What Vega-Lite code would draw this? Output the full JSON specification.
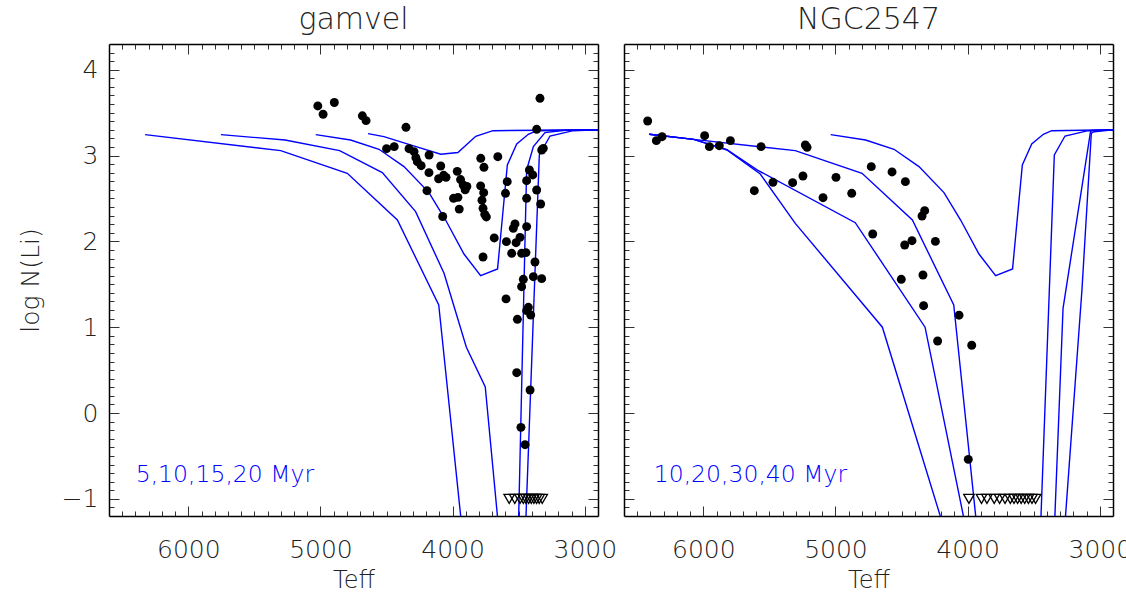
{
  "$schema": "https://vega.github.io/schema/vega-lite/v6.json",
  "autosize": {"type": "pad"},
  "padding": {"left": 18, "top": 5, "right": 0, "bottom": 0},
  "background": "white",
  "spacing": 6,
  "config": {
    "font": "DejaVu Sans",
    "view": {"stroke": null},
    "axis": {"grid": false, "domainColor": "#000", "domainWidth": 1.5, "tickColor": "#333", "tickWidth": 1, "labelColor": "#222", "titleColor": "#222", "labelFont": "DejaVu Sans", "labelFontWeight": 200, "titleFont": "DejaVu Sans", "titleFontWeight": 200, "labelOverlap": false, "labelFlush": false},
    "title": {"font": "DejaVu Sans", "fontWeight": 200, "fontSize": 30, "color": "#222", "offset": 8.5, "anchor": "middle"}
  },
  "datasets": {
    "gv_models": [
      {"age": "5", "teff": 4640, "logn": 3.255}, {"age": "5", "teff": 4520, "logn": 3.22}, {"age": "5", "teff": 4350, "logn": 3.14}, {"age": "5", "teff": 4090, "logn": 3.016}, {"age": "5", "teff": 3960, "logn": 3.036}, {"age": "5", "teff": 3825, "logn": 3.225}, {"age": "5", "teff": 3695, "logn": 3.29}, {"age": "5", "teff": 2900, "logn": 3.3},
      {"age": "10", "teff": 5036, "logn": 3.244}, {"age": "10", "teff": 4772, "logn": 3.181}, {"age": "10", "teff": 4557, "logn": 3.073}, {"age": "10", "teff": 4368, "logn": 2.871}, {"age": "10", "teff": 4179, "logn": 2.568}, {"age": "10", "teff": 4053, "logn": 2.249}, {"age": "10", "teff": 3914, "logn": 1.853}, {"age": "10", "teff": 3788, "logn": 1.601}, {"age": "10", "teff": 3660, "logn": 1.679}, {"age": "10", "teff": 3586, "logn": 2.89}, {"age": "10", "teff": 3515, "logn": 3.135}, {"age": "10", "teff": 3427, "logn": 3.248}, {"age": "10", "teff": 3364, "logn": 3.29}, {"age": "10", "teff": 2900, "logn": 3.3},
      {"age": "15", "teff": 5753, "logn": 3.244}, {"age": "15", "teff": 5268, "logn": 3.181}, {"age": "15", "teff": 4855, "logn": 3.057}, {"age": "15", "teff": 4532, "logn": 2.801}, {"age": "15", "teff": 4280, "logn": 2.347}, {"age": "15", "teff": 4065, "logn": 1.628}, {"age": "15", "teff": 3896, "logn": 0.766}, {"age": "15", "teff": 3753, "logn": 0.305}, {"age": "15", "teff": 3612, "logn": -2.0}, {"age": "15", "teff": 3512, "logn": -2.0}, {"age": "15", "teff": 3440, "logn": 2.832}, {"age": "15", "teff": 3389, "logn": 3.104}, {"age": "15", "teff": 3301, "logn": 3.267}, {"age": "15", "teff": 3150, "logn": 3.295}, {"age": "15", "teff": 2900, "logn": 3.3},
      {"age": "20", "teff": 6327, "logn": 3.244}, {"age": "20", "teff": 5301, "logn": 3.057}, {"age": "20", "teff": 4797, "logn": 2.793}, {"age": "20", "teff": 4418, "logn": 2.249}, {"age": "20", "teff": 4105, "logn": 1.259}, {"age": "20", "teff": 3885, "logn": -2.0}, {"age": "20", "teff": 3464, "logn": -2.0}, {"age": "20", "teff": 3344, "logn": 3.007}, {"age": "20", "teff": 3263, "logn": 3.228}, {"age": "20", "teff": 3087, "logn": 3.29}, {"age": "20", "teff": 2900, "logn": 3.3}
    ],
    "ngc_models": [
      {"age": "10", "teff": 5036, "logn": 3.244}, {"age": "10", "teff": 4772, "logn": 3.181}, {"age": "10", "teff": 4557, "logn": 3.073}, {"age": "10", "teff": 4368, "logn": 2.871}, {"age": "10", "teff": 4179, "logn": 2.568}, {"age": "10", "teff": 4053, "logn": 2.249}, {"age": "10", "teff": 3914, "logn": 1.853}, {"age": "10", "teff": 3788, "logn": 1.601}, {"age": "10", "teff": 3660, "logn": 1.679}, {"age": "10", "teff": 3586, "logn": 2.89}, {"age": "10", "teff": 3515, "logn": 3.135}, {"age": "10", "teff": 3427, "logn": 3.248}, {"age": "10", "teff": 3364, "logn": 3.29}, {"age": "10", "teff": 2900, "logn": 3.3},
      {"age": "20", "teff": 6409, "logn": 3.248}, {"age": "20", "teff": 6073, "logn": 3.189}, {"age": "20", "teff": 5304, "logn": 3.057}, {"age": "20", "teff": 4799, "logn": 2.793}, {"age": "20", "teff": 4418, "logn": 2.249}, {"age": "20", "teff": 4105, "logn": 1.259}, {"age": "20", "teff": 3885, "logn": -2.0}, {"age": "20", "teff": 3464, "logn": -2.0}, {"age": "20", "teff": 3344, "logn": 3.007}, {"age": "20", "teff": 3263, "logn": 3.228}, {"age": "20", "teff": 3087, "logn": 3.29}, {"age": "20", "teff": 2900, "logn": 3.3},
      {"age": "30", "teff": 6409, "logn": 3.248}, {"age": "30", "teff": 6073, "logn": 3.189}, {"age": "30", "teff": 5821, "logn": 3.07}, {"age": "30", "teff": 5590, "logn": 2.83}, {"age": "30", "teff": 4850, "logn": 2.218}, {"age": "30", "teff": 4322, "logn": 1.0}, {"age": "30", "teff": 4032, "logn": -1.2}, {"age": "30", "teff": 3927, "logn": -2.0}, {"age": "30", "teff": 3360, "logn": -2.0}, {"age": "30", "teff": 3278, "logn": 1.22}, {"age": "30", "teff": 3069, "logn": 3.29}, {"age": "30", "teff": 2900, "logn": 3.3},
      {"age": "40", "teff": 6409, "logn": 3.248}, {"age": "40", "teff": 6073, "logn": 3.189}, {"age": "40", "teff": 5821, "logn": 3.065}, {"age": "40", "teff": 5569, "logn": 2.785}, {"age": "40", "teff": 5304, "logn": 2.21}, {"age": "40", "teff": 4645, "logn": 1.0}, {"age": "40", "teff": 4207, "logn": -1.2}, {"age": "40", "teff": 4048, "logn": -2.0}, {"age": "40", "teff": 3297, "logn": -2.0}, {"age": "40", "teff": 3135, "logn": 1.434}, {"age": "40", "teff": 3064, "logn": 3.26}, {"age": "40", "teff": 3042, "logn": 3.278}, {"age": "40", "teff": 2900, "logn": 3.3}
    ],
    "gv_stars": [
      {"teff": 5020, "logn": 3.578}, {"teff": 4980, "logn": 3.481}, {"teff": 4895, "logn": 3.618}, {"teff": 4683, "logn": 3.463}, {"teff": 4655, "logn": 3.407}, {"teff": 4353, "logn": 3.329},
      {"teff": 4500, "logn": 3.08}, {"teff": 4442, "logn": 3.104}, {"teff": 4330, "logn": 3.08}, {"teff": 4292, "logn": 3.046}, {"teff": 4278, "logn": 2.975}, {"teff": 4267, "logn": 2.929}, {"teff": 4238, "logn": 2.882}, {"teff": 4178, "logn": 3.007}, {"teff": 4179, "logn": 2.801}, {"teff": 4194, "logn": 2.591},
      {"teff": 4090, "logn": 2.878}, {"teff": 4106, "logn": 2.73}, {"teff": 4068, "logn": 2.77}, {"teff": 4050, "logn": 2.746}, {"teff": 4075, "logn": 2.29}, {"teff": 3965, "logn": 2.816}, {"teff": 3940, "logn": 2.72}, {"teff": 3920, "logn": 2.657}, {"teff": 3892, "logn": 2.64}, {"teff": 3905, "logn": 2.6}, {"teff": 3993, "logn": 2.502}, {"teff": 3960, "logn": 2.513}, {"teff": 3950, "logn": 2.376},
      {"teff": 3787, "logn": 2.968}, {"teff": 3763, "logn": 2.863}, {"teff": 3788, "logn": 2.647}, {"teff": 3765, "logn": 2.568}, {"teff": 3778, "logn": 2.48}, {"teff": 3770, "logn": 2.385}, {"teff": 3757, "logn": 2.315}, {"teff": 3745, "logn": 2.285}, {"teff": 3658, "logn": 2.987}, {"teff": 3685, "logn": 2.04}, {"teff": 3770, "logn": 1.818}, {"teff": 3587, "logn": 2.696}, {"teff": 3600, "logn": 2.56}, {"teff": 3593, "logn": 1.997},
      {"teff": 3339, "logn": 3.667}, {"teff": 3364, "logn": 3.306}, {"teff": 3326, "logn": 3.065}, {"teff": 3314, "logn": 3.084}, {"teff": 3419, "logn": 2.832}, {"teff": 3394, "logn": 2.774}, {"teff": 3440, "logn": 2.707}, {"teff": 3364, "logn": 2.599}, {"teff": 3440, "logn": 2.502}, {"teff": 3334, "logn": 2.436},
      {"teff": 3528, "logn": 2.203}, {"teff": 3541, "logn": 2.152}, {"teff": 3440, "logn": 2.172}, {"teff": 3490, "logn": 2.047}, {"teff": 3520, "logn": 1.985}, {"teff": 3553, "logn": 1.861}, {"teff": 3478, "logn": 1.861}, {"teff": 3445, "logn": 1.869}, {"teff": 3377, "logn": 1.76},
      {"teff": 3465, "logn": 1.558}, {"teff": 3389, "logn": 1.589}, {"teff": 3326, "logn": 1.566}, {"teff": 3478, "logn": 1.472}, {"teff": 3596, "logn": 1.33}, {"teff": 3427, "logn": 1.232}, {"teff": 3440, "logn": 1.193}, {"teff": 3409, "logn": 1.142}, {"teff": 3510, "logn": 1.092},
      {"teff": 3515, "logn": 0.47}, {"teff": 3414, "logn": 0.268}, {"teff": 3483, "logn": -0.167}, {"teff": 3452, "logn": -0.369}
    ],
    "ngc_stars": [
      {"teff": 6421, "logn": 3.403}, {"teff": 6355, "logn": 3.174}, {"teff": 6312, "logn": 3.22}, {"teff": 5990, "logn": 3.232}, {"teff": 5954, "logn": 3.104}, {"teff": 5879, "logn": 3.115}, {"teff": 5795, "logn": 3.174}, {"teff": 5563, "logn": 3.104}, {"teff": 5614, "logn": 2.591}, {"teff": 5473, "logn": 2.688}, {"teff": 5324, "logn": 2.684}, {"teff": 5246, "logn": 2.762}, {"teff": 5228, "logn": 3.123}, {"teff": 5215, "logn": 3.096}, {"teff": 5094, "logn": 2.509}, {"teff": 4996, "logn": 2.746}, {"teff": 4877, "logn": 2.56},
      {"teff": 4729, "logn": 2.871}, {"teff": 4572, "logn": 2.809}, {"teff": 4471, "logn": 2.696}, {"teff": 4325, "logn": 2.358}, {"teff": 4345, "logn": 2.296}, {"teff": 4718, "logn": 2.086}, {"teff": 4421, "logn": 2.008}, {"teff": 4476, "logn": 1.958}, {"teff": 4244, "logn": 2.0}, {"teff": 4502, "logn": 1.558}, {"teff": 4338, "logn": 1.608}, {"teff": 4333, "logn": 1.251}, {"teff": 4065, "logn": 1.14}, {"teff": 4227, "logn": 0.839}, {"teff": 3969, "logn": 0.79}, {"teff": 3995, "logn": -0.54}
    ],
    "gv_limits": [
      {"teff": 3572, "logn": -1.0}, {"teff": 3530, "logn": -1.0}, {"teff": 3490, "logn": -1.0}, {"teff": 3465, "logn": -1.0}, {"teff": 3445, "logn": -1.0}, {"teff": 3425, "logn": -1.0}, {"teff": 3405, "logn": -1.0}, {"teff": 3385, "logn": -1.0}, {"teff": 3365, "logn": -1.0}, {"teff": 3345, "logn": -1.0}, {"teff": 3322, "logn": -1.0}
    ],
    "ngc_limits": [
      {"teff": 3990, "logn": -1.0}, {"teff": 3895, "logn": -1.0}, {"teff": 3854, "logn": -1.0}, {"teff": 3799, "logn": -1.0}, {"teff": 3758, "logn": -1.0}, {"teff": 3717, "logn": -1.0}, {"teff": 3677, "logn": -1.0}, {"teff": 3649, "logn": -1.0}, {"teff": 3622, "logn": -1.0}, {"teff": 3595, "logn": -1.0}, {"teff": 3568, "logn": -1.0}, {"teff": 3540, "logn": -1.0}, {"teff": 3513, "logn": -1.0}, {"teff": 3486, "logn": -1.0}
    ],
    "gv_note": [{"label": "5,10,15,20 Myr"}],
    "ngc_note": [{"label": "10,20,30,40 Myr"}]
  },
  "hconcat": [
    {
      "width": 489, "height": 472,
      "title": {"text": "gamvel"},
      "resolve": {"axis": {"x": "independent", "y": "independent"}},
      "layer": [
        {
          "data": {"name": "gv_models"},
          "mark": {"type": "line", "clip": true, "color": "#0000ff", "strokeWidth": 1.4},
          "encoding": {
            "x": {"field": "teff", "type": "quantitative", "scale": {"domain": [2900, 6600], "reverse": true, "nice": false, "zero": false},
                  "axis": {"orient": "bottom", "values": [3000,3100,3200,3300,3400,3500,3600,3700,3800,3900,4000,4100,4200,4300,4400,4500,4600,4700,4800,4900,5000,5100,5200,5300,5400,5500,5600,5700,5800,5900,6000,6100,6200,6300,6400,6500], "labels": false, "title": null, "tickSize": {"condition": {"test": "datum.value % 1000 === 0", "value": -10}, "value": -5}}},
            "y": {"field": "logn", "type": "quantitative", "scale": {"domain": [-1.2, 4.3], "nice": false, "zero": false},
                  "axis": {"orient": "left", "values": [-1.1,-1,-0.9,-0.8,-0.7,-0.6,-0.5,-0.4,-0.3,-0.2,-0.1,0,0.1,0.2,0.3,0.4,0.5,0.6,0.7,0.8,0.9,1,1.1,1.2,1.3,1.4,1.5,1.6,1.7,1.8,1.9,2,2.1,2.2,2.3,2.4,2.5,2.6,2.7,2.8,2.9,3,3.1,3.2,3.3,3.4,3.5,3.6,3.7,3.8,3.9,4,4.1,4.2], "labels": false, "title": null, "tickSize": {"condition": {"test": "abs(datum.value - round(datum.value)) < 0.001", "value": -10}, "value": -5}}},
            "detail": {"field": "age", "type": "nominal"}
          }
        },
        {
          "data": {"name": "gv_stars"},
          "mark": {"type": "point", "shape": "circle", "filled": true, "color": "#000", "size": 80, "opacity": 1},
          "encoding": {
            "x": {"field": "teff", "type": "quantitative",
                  "axis": {"orient": "top", "values": [3000,3100,3200,3300,3400,3500,3600,3700,3800,3900,4000,4100,4200,4300,4400,4500,4600,4700,4800,4900,5000,5100,5200,5300,5400,5500,5600,5700,5800,5900,6000,6100,6200,6300,6400,6500], "labels": false, "title": null, "tickSize": {"condition": {"test": "datum.value % 1000 === 0", "value": -10}, "value": -5}}},
            "y": {"field": "logn", "type": "quantitative",
                  "axis": {"orient": "right", "values": [-1.1,-1,-0.9,-0.8,-0.7,-0.6,-0.5,-0.4,-0.3,-0.2,-0.1,0,0.1,0.2,0.3,0.4,0.5,0.6,0.7,0.8,0.9,1,1.1,1.2,1.3,1.4,1.5,1.6,1.7,1.8,1.9,2,2.1,2.2,2.3,2.4,2.5,2.6,2.7,2.8,2.9,3,3.1,3.2,3.3,3.4,3.5,3.6,3.7,3.8,3.9,4,4.1,4.2], "labels": false, "title": null, "tickSize": {"condition": {"test": "abs(datum.value - round(datum.value)) < 0.001", "value": -10}, "value": -5}}}
          }
        },
        {
          "data": {"name": "gv_limits"},
          "mark": {"type": "point", "shape": "triangle-down", "filled": false, "color": "#000", "strokeWidth": 1.3, "size": 110, "opacity": 1},
          "encoding": {
            "x": {"field": "teff", "type": "quantitative",
                  "axis": {"orient": "bottom", "values": [3000, 4000, 5000, 6000], "ticks": false, "domain": false, "labelPadding": 21, "labelFontSize": 25, "format": "d", "title": "Teff", "titleFontSize": 24, "titlePadding": 6}},
            "y": {"field": "logn", "type": "quantitative",
                  "axis": {"orient": "left", "values": [-1, 0, 1, 2, 3, 4], "ticks": false, "domain": false, "labelPadding": 11, "labelFontSize": 25, "format": "d", "title": "log N(Li)", "titleFontSize": 25, "titlePadding": 18}}
          }
        },
        {
          "data": {"name": "gv_note"},
          "mark": {"type": "text", "color": "#0000ff", "fontSize": 23.5, "font": "DejaVu Sans", "fontWeight": 200, "align": "left", "baseline": "alphabetic"},
          "encoding": {
            "x": {"datum": 6398, "type": "quantitative", "axis": null},
            "y": {"datum": -0.807, "type": "quantitative", "axis": null},
            "text": {"field": "label"}
          }
        }
      ]
    },
    {
      "width": 489, "height": 472,
      "title": {"text": "NGC2547"},
      "resolve": {"axis": {"x": "independent", "y": "independent"}},
      "layer": [
        {
          "data": {"name": "ngc_models"},
          "mark": {"type": "line", "clip": true, "color": "#0000ff", "strokeWidth": 1.4},
          "encoding": {
            "x": {"field": "teff", "type": "quantitative", "scale": {"domain": [2900, 6600], "reverse": true, "nice": false, "zero": false},
                  "axis": {"orient": "bottom", "values": [3000,3100,3200,3300,3400,3500,3600,3700,3800,3900,4000,4100,4200,4300,4400,4500,4600,4700,4800,4900,5000,5100,5200,5300,5400,5500,5600,5700,5800,5900,6000,6100,6200,6300,6400,6500], "labels": false, "title": null, "tickSize": {"condition": {"test": "datum.value % 1000 === 0", "value": -10}, "value": -5}}},
            "y": {"field": "logn", "type": "quantitative", "scale": {"domain": [-1.2, 4.3], "nice": false, "zero": false},
                  "axis": {"orient": "left", "values": [-1.1,-1,-0.9,-0.8,-0.7,-0.6,-0.5,-0.4,-0.3,-0.2,-0.1,0,0.1,0.2,0.3,0.4,0.5,0.6,0.7,0.8,0.9,1,1.1,1.2,1.3,1.4,1.5,1.6,1.7,1.8,1.9,2,2.1,2.2,2.3,2.4,2.5,2.6,2.7,2.8,2.9,3,3.1,3.2,3.3,3.4,3.5,3.6,3.7,3.8,3.9,4,4.1,4.2], "labels": false, "title": null, "tickSize": {"condition": {"test": "abs(datum.value - round(datum.value)) < 0.001", "value": -10}, "value": -5}}},
            "detail": {"field": "age", "type": "nominal"}
          }
        },
        {
          "data": {"name": "ngc_stars"},
          "mark": {"type": "point", "shape": "circle", "filled": true, "color": "#000", "size": 80, "opacity": 1},
          "encoding": {
            "x": {"field": "teff", "type": "quantitative",
                  "axis": {"orient": "top", "values": [3000,3100,3200,3300,3400,3500,3600,3700,3800,3900,4000,4100,4200,4300,4400,4500,4600,4700,4800,4900,5000,5100,5200,5300,5400,5500,5600,5700,5800,5900,6000,6100,6200,6300,6400,6500], "labels": false, "title": null, "tickSize": {"condition": {"test": "datum.value % 1000 === 0", "value": -10}, "value": -5}}},
            "y": {"field": "logn", "type": "quantitative",
                  "axis": {"orient": "right", "values": [-1.1,-1,-0.9,-0.8,-0.7,-0.6,-0.5,-0.4,-0.3,-0.2,-0.1,0,0.1,0.2,0.3,0.4,0.5,0.6,0.7,0.8,0.9,1,1.1,1.2,1.3,1.4,1.5,1.6,1.7,1.8,1.9,2,2.1,2.2,2.3,2.4,2.5,2.6,2.7,2.8,2.9,3,3.1,3.2,3.3,3.4,3.5,3.6,3.7,3.8,3.9,4,4.1,4.2], "labels": false, "title": null, "tickSize": {"condition": {"test": "abs(datum.value - round(datum.value)) < 0.001", "value": -10}, "value": -5}}}
          }
        },
        {
          "data": {"name": "ngc_limits"},
          "mark": {"type": "point", "shape": "triangle-down", "filled": false, "color": "#000", "strokeWidth": 1.3, "size": 110, "opacity": 1},
          "encoding": {
            "x": {"field": "teff", "type": "quantitative",
                  "axis": {"orient": "bottom", "values": [3000, 4000, 5000, 6000], "ticks": false, "domain": false, "labelPadding": 21, "labelFontSize": 25, "format": "d", "title": "Teff", "titleFontSize": 24, "titlePadding": 6}},
            "y": {"field": "logn", "type": "quantitative", "axis": null}
          }
        },
        {
          "data": {"name": "ngc_note"},
          "mark": {"type": "text", "color": "#0000ff", "fontSize": 23.5, "font": "DejaVu Sans", "fontWeight": 200, "align": "left", "baseline": "alphabetic"},
          "encoding": {
            "x": {"datum": 6375, "type": "quantitative", "axis": null},
            "y": {"datum": -0.807, "type": "quantitative", "axis": null},
            "text": {"field": "label"}
          }
        }
      ]
    }
  ]
}
